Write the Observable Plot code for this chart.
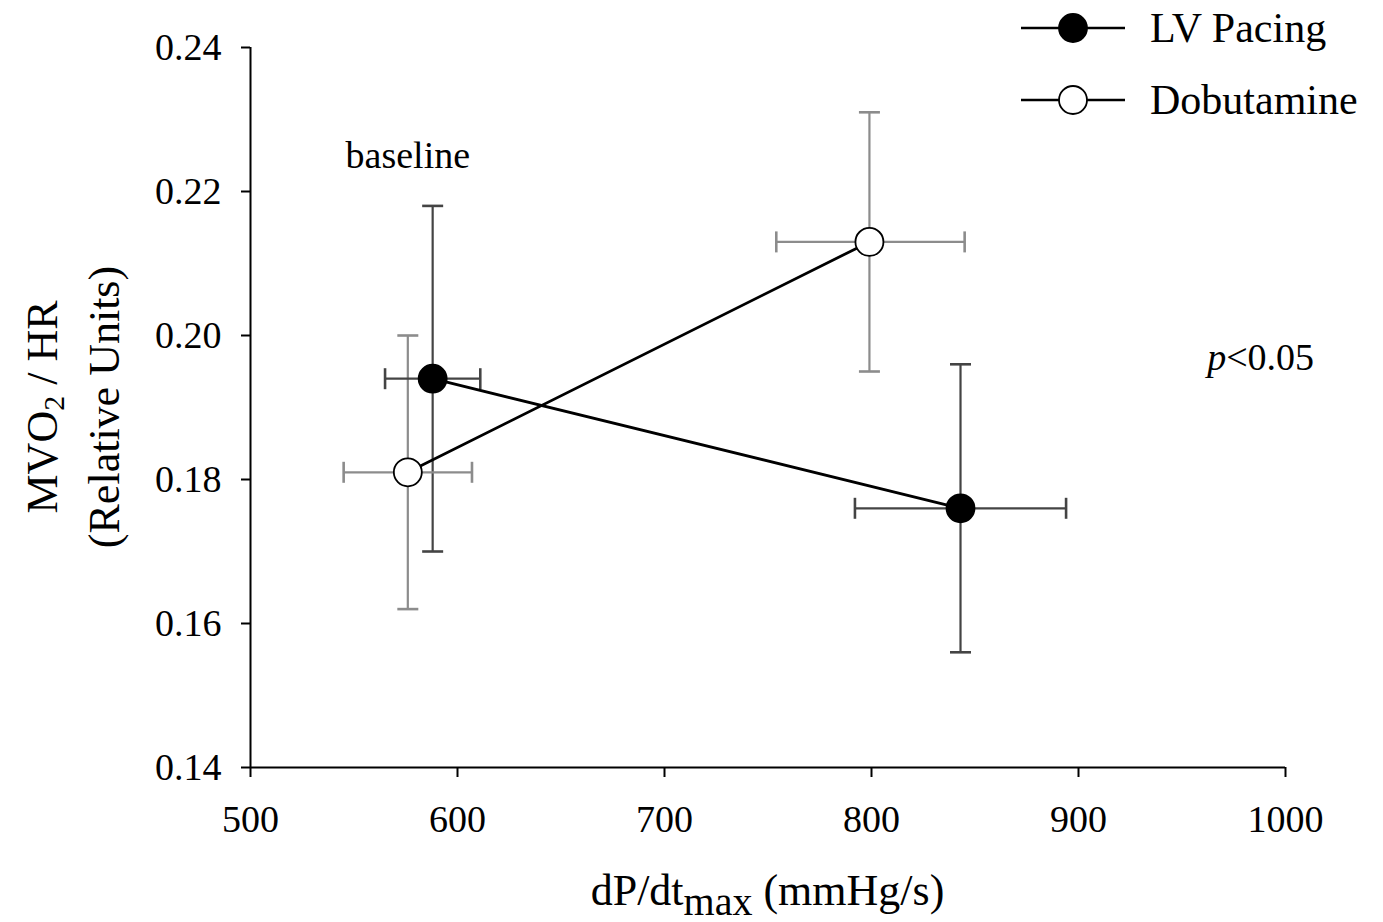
<!DOCTYPE html>
<html>
<head>
<meta charset="utf-8">
<script src="https://cdn.jsdelivr.net/npm/d3@7"></script>
<script src="https://cdn.jsdelivr.net/npm/@observablehq/plot@0.6"></script>
<style>
  html, body { margin: 0; padding: 0; background: #fff; }
  #chart { width: 1383px; height: 922px; }
</style>
</head>
<body>
<div id="chart"></div>
<script>
// ---- data ----
const seriesNames = ["LV Pacing", "Dobutamine"];
const conditions = ["baseline", "stimulated"];

const lvX   = [588, 843];
const lvXLo = [565, 792];
const lvXHi = [611, 894];
const lvY   = [0.194, 0.176];
const lvYLo = [0.170, 0.156];
const lvYHi = [0.218, 0.196];

const dobX   = [576, 799];
const dobXLo = [545, 754];
const dobXHi = [607, 845];
const dobY   = [0.181, 0.213];
const dobYLo = [0.162, 0.195];
const dobYHi = [0.200, 0.231];

const xTicks = [500, 600, 700, 800, 900, 1000];
const yTicks = [0.14, 0.16, 0.18, 0.20, 0.22, 0.24];

const annotText = ["baseline", "p<0.05"];
const annotX = [576, 988];
const annotY = [0.2249, 0.1969];

const xTitleMain = "dP/dt";
const xTitleSub = "max";
const xTitleUnit = " (mmHg/s)";
const yTitleLine1 = "MVO";
const yTitleSub = "2";
const yTitleRest = " / HR";
const yTitleLine2 = "(Relative Units)";

// ---- build table ----
function rows(name, X, XLo, XHi, Y, YLo, YHi) {
  return conditions.map((c, i) => ({
    series: name, condition: c,
    x: X[i], xLo: XLo[i], xHi: XHi[i],
    y: Y[i], yLo: YLo[i], yHi: YHi[i]
  }));
}
const data = [
  ...rows(seriesNames[0], lvX, lvXLo, lvXHi, lvY, lvYLo, lvYHi),
  ...rows(seriesNames[1], dobX, dobXLo, dobXHi, dobY, dobYLo, dobYHi)
];
const annotations = annotText.map((t, i) => ({text: t, x: annotX[i], y: annotY[i]}));

const barColor = {"LV Pacing": "#444", "Dobutamine": "#8c8c8c"};
const dotFill = {"LV Pacing": "#000", "Dobutamine": "#fff"};

const hCap = {draw(ctx, size) { const w = Math.sqrt(size / Math.PI); ctx.moveTo(-w, 0); ctx.lineTo(w, 0); }};
const vCap = {draw(ctx, size) { const w = Math.sqrt(size / Math.PI); ctx.moveTo(0, -w); ctx.lineTo(0, w); }};

const serif = "'Liberation Serif', 'Times New Roman', Times, serif";

const plot = Plot.plot({
  width: 1383,
  height: 922,
  marginLeft: 250,
  marginRight: 98,
  marginTop: 47,
  marginBottom: 155,
  x: {domain: [xTicks[0], xTicks[xTicks.length - 1]]},
  y: {domain: [yTicks[0], yTicks[yTicks.length - 1]]},
  style: {fontFamily: serif, fontSize: "38px", color: "#000", background: "#fff", overflow: "visible"},
  marks: [
    Plot.axisX({ticks: xTicks, tickFormat: d => String(d), tickSize: 10, tickPadding: 28, label: null, strokeWidth: 2, fontSize: 38}),
    Plot.axisY({ticks: yTicks, tickFormat: d3.format(".2f"), tickSize: 9, tickPadding: 20, label: null, strokeWidth: 2, fontSize: 38}),
    Plot.ruleY([yTicks[0]], {stroke: "#000", strokeWidth: 2}),
    Plot.ruleX([xTicks[0]], {stroke: "#000", strokeWidth: 2}),
    // vertical error bars
    Plot.ruleX(data, {x: "x", y1: "yLo", y2: "yHi", stroke: d => barColor[d.series], strokeWidth: 2.2}),
    Plot.dot(data, {x: "x", y: "yLo", symbol: hCap, r: 10.5, fill: "none", stroke: d => barColor[d.series], strokeWidth: 2.6}),
    Plot.dot(data, {x: "x", y: "yHi", symbol: hCap, r: 10.5, fill: "none", stroke: d => barColor[d.series], strokeWidth: 2.6}),
    // horizontal error bars
    Plot.ruleY(data, {y: "y", x1: "xLo", x2: "xHi", stroke: d => barColor[d.series], strokeWidth: 2.2}),
    Plot.dot(data, {x: "xLo", y: "y", symbol: vCap, r: 10.5, fill: "none", stroke: d => barColor[d.series], strokeWidth: 2.6}),
    Plot.dot(data, {x: "xHi", y: "y", symbol: vCap, r: 10.5, fill: "none", stroke: d => barColor[d.series], strokeWidth: 2.6}),
    // connecting lines
    Plot.line(data, {x: "x", y: "y", z: "series", stroke: "#000", strokeWidth: 2.8}),
    // markers
    Plot.dot(data, {x: "x", y: "y", r: 14, fill: d => dotFill[d.series], stroke: "#000", strokeWidth: 1.8}),
    // annotations
    Plot.text(annotations, {x: "x", y: "y", text: "text", fontSize: 38, fill: "#000"})
  ]
});

document.getElementById("chart").appendChild(plot);

const svg = d3.select(plot);
svg.style("font-family", serif);

// italic p in "p<0.05"
svg.selectAll("text").each(function() {
  if (this.textContent === annotText[1]) {
    const t = d3.select(this);
    t.text(null);
    t.append("tspan").attr("font-style", "italic").text(annotText[1].slice(0, 1));
    t.append("tspan").text(annotText[1].slice(1));
  }
});

// x-axis title with subscript
const cx = (250 + (1383 - 98)) / 2;
const xt = svg.append("text")
  .attr("x", cx).attr("y", 905)
  .attr("text-anchor", "middle")
  .attr("font-size", 44)
  .attr("fill", "#000");
xt.append("tspan").text(xTitleMain);
xt.append("tspan").attr("font-size", 40).attr("dy", 10).text(xTitleSub);
xt.append("tspan").attr("dy", -10).text(xTitleUnit);

// y-axis title (two rotated lines)
const cy = (47 + 767) / 2;
const yt1 = svg.append("text")
  .attr("transform", `translate(57,${cy}) rotate(-90)`)
  .attr("text-anchor", "middle")
  .attr("font-size", 44)
  .attr("fill", "#000");
yt1.append("tspan").text(yTitleLine1);
yt1.append("tspan").attr("font-size", 30).attr("dy", 7).text(yTitleSub);
yt1.append("tspan").attr("dy", -7).text(yTitleRest);

svg.append("text")
  .attr("transform", `translate(119,${cy}) rotate(-90)`)
  .attr("text-anchor", "middle")
  .attr("font-size", 44)
  .attr("fill", "#000")
  .text(yTitleLine2);

// legend (top right)
const legend = svg.append("g");
const legendRows = [28, 100];
seriesNames.forEach((name, i) => {
  const y = legendRows[i];
  legend.append("line").attr("x1", 1021).attr("x2", 1125).attr("y1", y).attr("y2", y)
    .attr("stroke", "#000").attr("stroke-width", 2.4);
  legend.append("circle").attr("cx", 1073).attr("cy", y).attr("r", 14)
    .attr("fill", dotFill[name]).attr("stroke", "#000").attr("stroke-width", 1.8);
  legend.append("text").attr("x", 1150).attr("y", y + 14)
    .attr("text-anchor", "start")
    .attr("font-size", 42).attr("fill", "#000").text(name);
});
</script>
</body>
</html>
